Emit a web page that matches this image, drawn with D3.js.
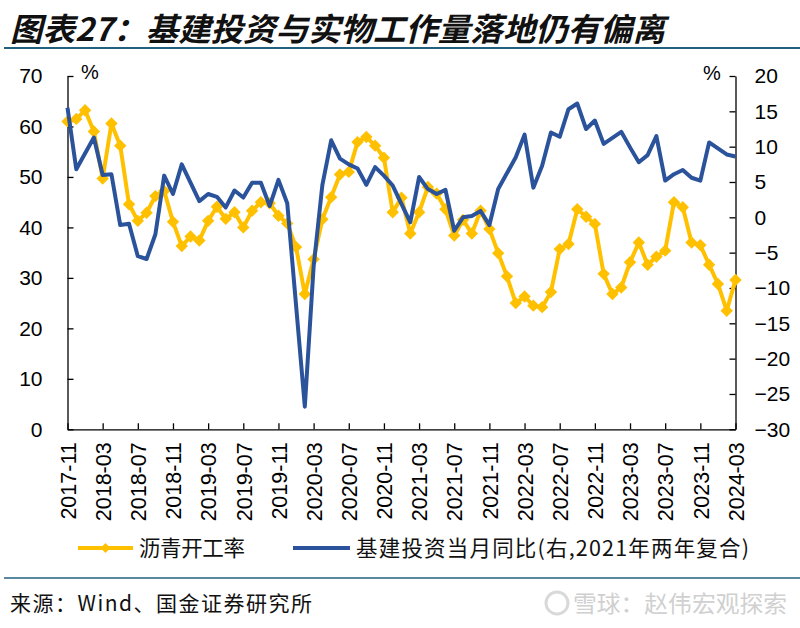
<!DOCTYPE html>
<html><head><meta charset="utf-8">
<script src="https://cdn.jsdelivr.net/npm/d3@7"></script>
<style>body{margin:0;background:#fff}svg{display:block}</style>
</head><body><svg id="c" width="800" height="628"></svg>
<script>
// ---- data ----
const firstYear = 2017, firstMonth = 11, monthCount = 77;
const tickLabels = ["2017-11","2018-03","2018-07","2018-11","2019-03","2019-07","2019-11","2020-03","2020-07","2020-11","2021-03","2021-07","2021-11","2022-03","2022-07","2022-11","2023-03","2023-07","2023-11","2024-03"];
const leftTicks = [0,10,20,30,40,50,60,70];
const rightTicks = [-30,-25,-20,-15,-10,-5,0,5,10,15,20];
// 沥青开工率 (left axis, %)
const asphaltRate = [61,61.5,63.2,59,49.7,60.6,56.2,44.6,41.3,42.9,46.2,47.2,
 41.1,36.3,38.2,37.4,41.3,44.1,41.7,43,40,43.3,45,44.8,
 42.3,40.8,36.1,26.8,33.7,41.6,46,50.5,51,56.9,57.9,56.2,
 53.8,43,45.9,38.8,43,48,46.7,43.6,38.4,41.5,38.8,43.3,
 39.7,34.9,30.3,25,26.3,24.5,24.2,27.2,35.7,36.7,43.6,42.1,
 40.7,30.8,26.8,28.1,33.1,37,32.6,34.2,35.4,45,44,37,
 36.5,32.6,28.8,23.5,29.6];
// 基建投资当月同比 (right axis, %), January not published (null)
const infraYoY = [15.5,6.8,null,11.3,6.0,6.1,-1.1,-0.9,-5.5,-5.9,-2.4,5.9,
 3.3,7.5,null,2.3,3.3,2.9,1.4,3.8,2.8,4.9,4.9,1.6,
 5.3,2.0,null,-26.8,-7,4.6,10.9,8.3,7.5,6.9,4.6,7.1,
 5.9,4.5,null,-0.7,5.7,4.0,3.3,3.9,-1.9,0.0,0.2,0.9,
 -1.1,4.0,null,8.5,11.7,4.2,7.3,12.0,11.4,15.3,16.1,12.5,
 13.7,10.4,null,12.1,9.9,7.8,8.8,11.5,5.2,6.1,6.7,5.6,
 5.2,10.6,null,8.9,8.6];
const seriesNames = ["沥青开工率","基建投资当月同比(右,2021年两年复合)"];
const titleText = "图表27：基建投资与实物工作量落地仍有偏离";
const sourceText = "来源：Wind、国金证券研究所";
const watermarkText = "雪球：赵伟宏观探索";

// ---- build categories ----
const months = [];
for (let k = 0; k < monthCount; k++) {
  const m0 = firstMonth - 1 + k;
  const y = firstYear + Math.floor(m0 / 12), m = (m0 % 12) + 1;
  months.push(y + "-" + String(m).padStart(2, "0"));
}

const YELLOW = "#FFC000", BLUE = "#2B539B", RULE = "#22607F";
const svg = d3.select("#c");
const cjk = "'Noto Sans CJK SC','Noto Sans',sans-serif";
const num = "'Liberation Sans',Arial,sans-serif";

// title
svg.append("text").attr("x", 10).attr("y", 41).text(titleText)
  .attr("font-family", cjk).attr("font-size", 32).attr("font-weight", 700)
  .attr("font-style", "italic").attr("fill", "#111")
  .attr("textLength", 655).attr("lengthAdjust", "spacingAndGlyphs");
svg.append("line").attr("x1", 4).attr("x2", 800).attr("y1", 48).attr("y2", 48)
  .attr("stroke", RULE).attr("stroke-width", 2);

// scales
const x = d3.scalePoint().domain(months).range([67.5, 735.5]);
const yL = d3.scaleLinear().domain([0, 70]).range([429.3, 76]);
const yR = d3.scaleLinear().domain([-30, 20]).range([429.3, 76]);

function styleAxis(g) {
  g.selectAll("path,line").attr("stroke", "#000").attr("stroke-width", 1.3);
  g.selectAll("text").attr("font-family", num).attr("fill", "#000");
}

// left axis
svg.append("g").attr("transform", "translate(67.5,0)")
  .call(d3.axisLeft(yL).tickValues(leftTicks).tickSize(-6).tickSizeOuter(0).tickPadding(25))
  .call(styleAxis).selectAll("text").attr("font-size", 21);
// right axis
svg.append("g").attr("transform", "translate(735.5,0)")
  .call(d3.axisRight(yR).tickValues(rightTicks).tickSize(-6).tickSizeOuter(0).tickPadding(19))
  .call(styleAxis).selectAll("text").attr("font-size", 21);
// bottom axis
const gx = svg.append("g").attr("transform", "translate(0,429.3)")
  .call(d3.axisBottom(x).tickValues(tickLabels).tickSize(-6).tickSizeOuter(0))
  .call(styleAxis);
gx.selectAll("text").attr("font-size", 21.5)
  .attr("transform", "rotate(-90)").attr("text-anchor", "end")
  .attr("x", -13).attr("y", 0).attr("dy", "0.36em");

// unit labels
svg.append("text").attr("x", 90).attr("y", 79).attr("text-anchor", "middle")
  .attr("font-family", num).attr("font-size", 20).text("%");
svg.append("text").attr("x", 712).attr("y", 80).attr("text-anchor", "middle")
  .attr("font-family", num).attr("font-size", 20).text("%");

// yellow series
const diamond = r => `M0,${-r}L${r},0L0,${r}L${-r},0Z`;
const yData = months.map((m, i) => ({ m, v: asphaltRate[i] }));
svg.append("path").datum(yData)
  .attr("d", d3.line().x(d => x(d.m)).y(d => yL(d.v)))
  .attr("fill", "none").attr("stroke", YELLOW).attr("stroke-width", 4).attr("stroke-linejoin", "round");
svg.append("g").selectAll("path").data(yData).join("path")
  .attr("transform", d => `translate(${x(d.m)},${yL(d.v)})`)
  .attr("d", diamond(6.2)).attr("fill", YELLOW);

// blue series
const bData = months.map((m, i) => ({ m, v: infraYoY[i] })).filter(d => d.v !== null);
svg.append("path").datum(bData)
  .attr("d", d3.line().x(d => x(d.m)).y(d => yR(d.v)))
  .attr("fill", "none").attr("stroke", BLUE).attr("stroke-width", 4).attr("stroke-linejoin", "round");

// legend
const lg = svg.append("g");
lg.append("line").attr("x1", 78).attr("x2", 133).attr("y1", 548).attr("y2", 548)
  .attr("stroke", YELLOW).attr("stroke-width", 4);
lg.append("path").attr("transform", "translate(105.5,548)").attr("d", diamond(5)).attr("fill", YELLOW);
lg.append("text").attr("x", 139).attr("y", 556).text(seriesNames[0])
  .attr("font-family", cjk).attr("font-size", 21.5).attr("fill", "#111")
  .attr("textLength", 106).attr("lengthAdjust", "spacing");
lg.append("line").attr("x1", 293).attr("x2", 350).attr("y1", 548).attr("y2", 548)
  .attr("stroke", BLUE).attr("stroke-width", 4);
lg.append("text").attr("x", 356).attr("y", 556).text(seriesNames[1])
  .attr("font-family", cjk).attr("font-size", 21.5).attr("fill", "#111")
  .attr("textLength", 393).attr("lengthAdjust", "spacing");

// bottom rule and source
svg.append("line").attr("x1", 4).attr("x2", 800).attr("y1", 578).attr("y2", 578)
  .attr("stroke", RULE).attr("stroke-width", 1.5);
svg.append("text").attr("x", 10).attr("y", 611).text(sourceText)
  .attr("font-family", cjk).attr("font-size", 21).attr("fill", "#111")
  .attr("textLength", 302).attr("lengthAdjust", "spacing");

// watermark
const wm = svg.append("g").attr("opacity", 0.55);
wm.append("circle").attr("cx", 557).attr("cy", 603).attr("r", 11)
  .attr("fill", "none").attr("stroke", "#bbb").attr("stroke-width", 3);
wm.append("text").attr("x", 573).attr("y", 612).text(watermarkText)
  .attr("font-family", cjk).attr("font-size", 23).attr("fill", "#aaa")
  .attr("textLength", 214).attr("lengthAdjust", "spacingAndGlyphs");
</script></body></html>
